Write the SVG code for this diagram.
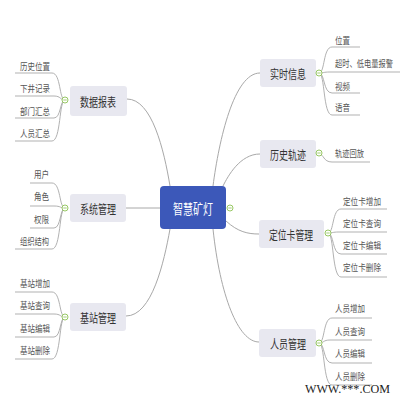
<svg xmlns="http://www.w3.org/2000/svg" width="400" height="400" viewBox="0 0 400 400">
<style>
.bg{fill:#ffffff}
.conn{fill:none;stroke:#a8a8a8;stroke-width:1}
.leafline{fill:none;stroke:#a8a8a8;stroke-width:0.9}
.box{fill:#e8e8f0}
.center{fill:#3c58b9}
.t{font-family:"Noto Sans CJK SC","Noto Sans",sans-serif;text-anchor:middle;dominant-baseline:central}
.main{font-size:12.5px;fill:#333333}
.ctext{font-size:13.5px;fill:#ffffff}
.leaf{font-family:"Noto Sans CJK SC","Noto Sans",sans-serif;font-size:9.5px;fill:#555555}
.tog{fill:#ffffff;stroke:#8cc152;stroke-width:0.9}
.togm{stroke:#8cc152;stroke-width:0.8}
.wm{font-family:"Liberation Serif",serif;font-size:12px;fill:#222222}
</style>
<rect class="bg" x="0" y="0" width="400" height="400"/>
<g id="connectors">
<path class="conn" d="M127,99 C152,99 164,150 170,186"/>
<path class="conn" d="M126,208 H160"/>
<path class="conn" d="M126,316 C152,316 164,262 170,229"/>
<path class="conn" d="M260,73 C234,73 219,140 213,186"/>
<path class="conn" d="M260,154 C240,154 228,176 223,186"/>
<path class="conn" d="M226,221 C238,232 248,234 259,234"/>
<path class="conn" d="M213,229 C220,295 238,342 259,342"/>
<path class="leafline" d="M65,100 C59,100 61,73 52,73 H15"/>
<path class="leafline" d="M65,100 C60,100 61,96 54,96 H15"/>
<path class="leafline" d="M65,100 C60,100 61,118 54,118 H15"/>
<path class="leafline" d="M65,100 C59,100 61,141 52,141 H15"/>
<path class="leafline" d="M65,208 C59,208 61,183 52,183 H30"/>
<path class="leafline" d="M65,208 C60,208 61,206 54,206 H30"/>
<path class="leafline" d="M65,208 C60,208 61,228 54,228 H30"/>
<path class="leafline" d="M65,208 C59,208 61,249 52,249 H15"/>
<path class="leafline" d="M65,317 C59,317 61,292 52,292 H15"/>
<path class="leafline" d="M65,317 C60,317 61,314 54,314 H15"/>
<path class="leafline" d="M65,317 C60,317 61,337 54,337 H15"/>
<path class="leafline" d="M65,317 C59,317 61,359 52,359 H15"/>
<path class="leafline" d="M319,73 C325,73 323,47 332,47 H360"/>
<path class="leafline" d="M319,73 C324,73 323,72 330,72 H400"/>
<path class="leafline" d="M319,73 C325,73 323,93 332,93 H360"/>
<path class="leafline" d="M319,73 C325,73 323,115 332,115 H360"/>
<path class="leafline" d="M319,154 C324,154 323,162 332,162 H370"/>
<path class="leafline" d="M328,233 C334,233 332,209 341,209 H387"/>
<path class="leafline" d="M328,233 C333,233 332,232 339,232 H387"/>
<path class="leafline" d="M328,233 C334,233 332,254 341,254 H387"/>
<path class="leafline" d="M328,233 C334,233 332,277 341,277 H387"/>
<path class="leafline" d="M319,343 C325,343 323,318 332,318 H372"/>
<path class="leafline" d="M319,343 C324,343 323,340 330,340 H372"/>
<path class="leafline" d="M319,343 C325,343 323,363 332,363 H372"/>
<path class="leafline" d="M319,343 C325,343 323,385 332,385 H372"/>
</g>
<g id="center">
<rect class="center" x="160" y="186" width="66" height="43" rx="4"/>
<text class="t ctext" x="193" y="208" textLength="40" lengthAdjust="spacingAndGlyphs">智慧矿灯</text>
<circle class="tog" cx="230" cy="208" r="3"/>
<line class="togm" x1="228.3" y1="208" x2="231.7" y2="208"/>
</g>
<g id="node-sjbb">
<rect class="box" x="70" y="86" width="57" height="30" rx="3"/>
<text class="t main" x="98" y="101" textLength="36" lengthAdjust="spacingAndGlyphs">数据报表</text>
<circle class="tog" cx="65" cy="100" r="3"/>
<line class="togm" x1="63.3" y1="100" x2="66.7" y2="100"/>
<text class="leaf" x="20" y="70" textLength="30" lengthAdjust="spacingAndGlyphs">历史位置</text>
<text class="leaf" x="20" y="92" textLength="30" lengthAdjust="spacingAndGlyphs">下井记录</text>
<text class="leaf" x="20" y="115" textLength="30" lengthAdjust="spacingAndGlyphs">部门汇总</text>
<text class="leaf" x="20" y="137" textLength="30" lengthAdjust="spacingAndGlyphs">人员汇总</text>
</g>
<g id="node-xtgl">
<rect class="box" x="70" y="194" width="56" height="28" rx="3"/>
<text class="t main" x="98" y="208" textLength="36" lengthAdjust="spacingAndGlyphs">系统管理</text>
<circle class="tog" cx="65" cy="208" r="3"/>
<line class="togm" x1="63.3" y1="208" x2="66.7" y2="208"/>
<text class="leaf" x="34" y="178" textLength="15" lengthAdjust="spacingAndGlyphs">用户</text>
<text class="leaf" x="34" y="200" textLength="15" lengthAdjust="spacingAndGlyphs">角色</text>
<text class="leaf" x="34" y="223" textLength="15" lengthAdjust="spacingAndGlyphs">权限</text>
<text class="leaf" x="20" y="245" textLength="29" lengthAdjust="spacingAndGlyphs">组织结构</text>
</g>
<g id="node-jzgl">
<rect class="box" x="70" y="303" width="56" height="28" rx="3"/>
<text class="t main" x="98" y="317" textLength="36" lengthAdjust="spacingAndGlyphs">基站管理</text>
<circle class="tog" cx="65" cy="317" r="3"/>
<line class="togm" x1="63.3" y1="317" x2="66.7" y2="317"/>
<text class="leaf" x="20" y="287" textLength="30" lengthAdjust="spacingAndGlyphs">基站增加</text>
<text class="leaf" x="20" y="309" textLength="30" lengthAdjust="spacingAndGlyphs">基站查询</text>
<text class="leaf" x="20" y="332" textLength="30" lengthAdjust="spacingAndGlyphs">基站编辑</text>
<text class="leaf" x="20" y="354" textLength="30" lengthAdjust="spacingAndGlyphs">基站删除</text>
</g>
<g id="node-ssxx">
<rect class="box" x="260" y="59" width="56" height="28" rx="3"/>
<text class="t main" x="288" y="73" textLength="36" lengthAdjust="spacingAndGlyphs">实时信息</text>
<circle class="tog" cx="319" cy="73" r="3"/>
<line class="togm" x1="317.3" y1="73" x2="320.7" y2="73"/>
<text class="leaf" x="335" y="44" textLength="15" lengthAdjust="spacingAndGlyphs">位置</text>
<text class="leaf" x="335" y="67" textLength="58" lengthAdjust="spacingAndGlyphs">超时、低电量报警</text>
<text class="leaf" x="335" y="90" textLength="15" lengthAdjust="spacingAndGlyphs">视频</text>
<text class="leaf" x="335" y="111" textLength="15" lengthAdjust="spacingAndGlyphs">语音</text>
</g>
<g id="node-lsgj">
<rect class="box" x="260" y="140" width="56" height="28" rx="3"/>
<text class="t main" x="288" y="154" textLength="36" lengthAdjust="spacingAndGlyphs">历史轨迹</text>
<circle class="tog" cx="319" cy="153" r="3"/>
<line class="togm" x1="317.3" y1="153" x2="320.7" y2="153"/>
<text class="leaf" x="335" y="157" textLength="29" lengthAdjust="spacingAndGlyphs">轨迹回放</text>
</g>
<g id="node-dwkgl">
<rect class="box" x="259" y="220" width="65" height="28" rx="3"/>
<text class="t main" x="291" y="234" textLength="44" lengthAdjust="spacingAndGlyphs">定位卡管理</text>
<circle class="tog" cx="328" cy="233" r="3"/>
<line class="togm" x1="326.3" y1="233" x2="329.7" y2="233"/>
<text class="leaf" x="343" y="205" textLength="38" lengthAdjust="spacingAndGlyphs">定位卡增加</text>
<text class="leaf" x="343" y="227" textLength="38" lengthAdjust="spacingAndGlyphs">定位卡查询</text>
<text class="leaf" x="343" y="249" textLength="38" lengthAdjust="spacingAndGlyphs">定位卡编辑</text>
<text class="leaf" x="343" y="271" textLength="38" lengthAdjust="spacingAndGlyphs">定位卡删除</text>
</g>
<g id="node-rygl">
<rect class="box" x="259" y="329" width="57" height="28" rx="3"/>
<text class="t main" x="288" y="343" textLength="36" lengthAdjust="spacingAndGlyphs">人员管理</text>
<circle class="tog" cx="319" cy="343" r="3"/>
<line class="togm" x1="317.3" y1="343" x2="320.7" y2="343"/>
<text class="leaf" x="335" y="312" textLength="30" lengthAdjust="spacingAndGlyphs">人员增加</text>
<text class="leaf" x="335" y="335" textLength="30" lengthAdjust="spacingAndGlyphs">人员查询</text>
<text class="leaf" x="335" y="357" textLength="30" lengthAdjust="spacingAndGlyphs">人员编辑</text>
<text class="leaf" x="335" y="380" textLength="30" lengthAdjust="spacingAndGlyphs">人员删除</text>
</g>
<text class="wm" x="305" y="393" textLength="85" lengthAdjust="spacingAndGlyphs">WWW.***.COM</text>
</svg>
